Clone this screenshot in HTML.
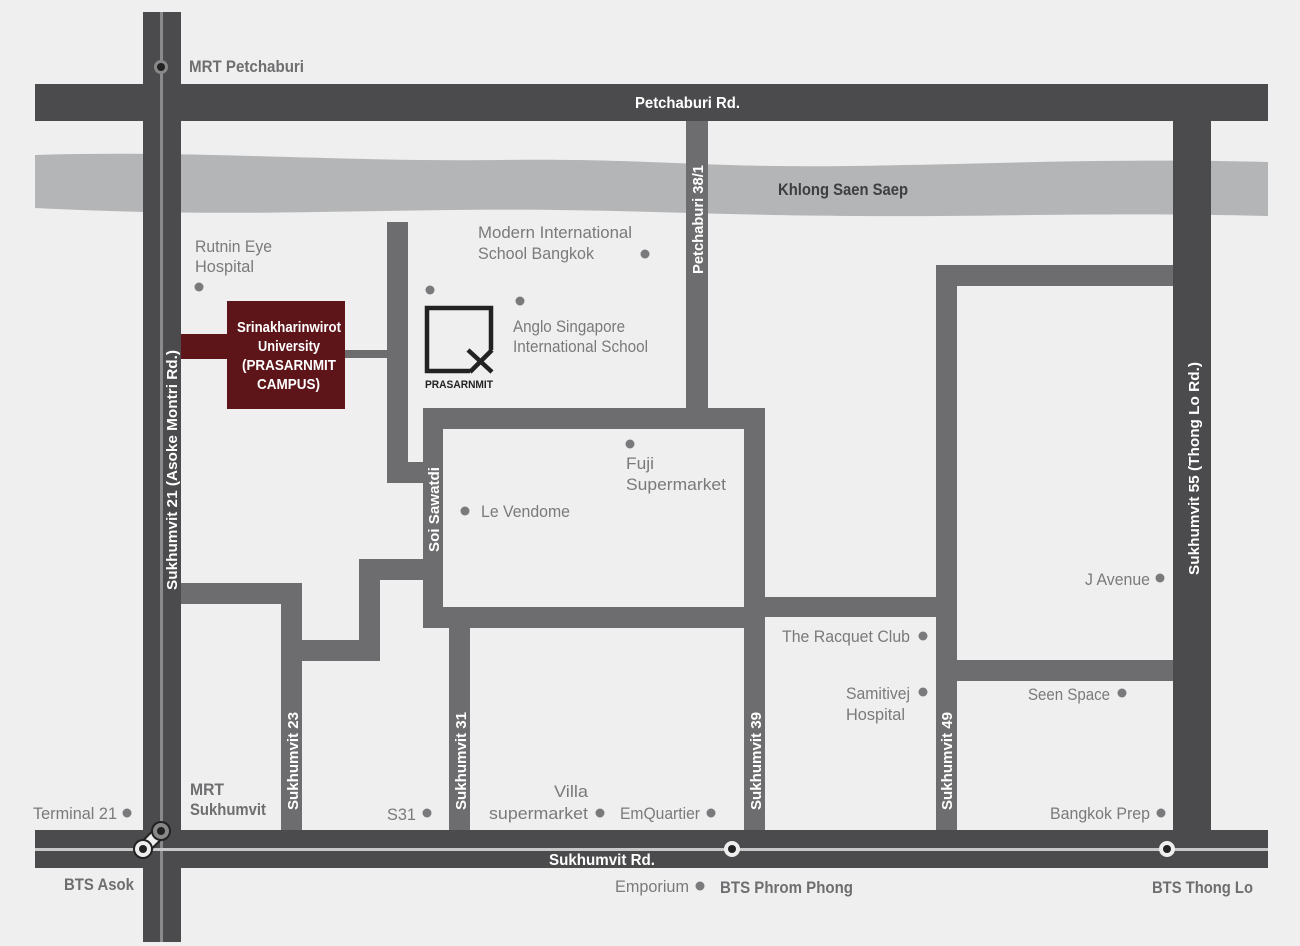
<!DOCTYPE html>
<html><head><meta charset="utf-8"><style>
html,body{margin:0;padding:0;background:#f0f0f0;}
svg{display:block}
text{font-family:"Liberation Sans",sans-serif;}
.b{font-weight:bold;fill:#fff;font-size:15px}
.g{fill:#7a7a7c;font-size:17px}
.d{font-weight:bold;fill:#6e6e70;font-size:17px}
.w{font-weight:bold;fill:#fff;font-size:15px}
</style></head><body>
<svg width="1300" height="946" viewBox="0 0 1300 946" xmlns="http://www.w3.org/2000/svg">
<rect width="1300" height="946" fill="#efefef"/>
<path d="M35 155 C200 150 330 162 500 160 C650 158 700 168 850 166 C1000 164 1100 158 1268 162 L1268 216 C1100 212 1000 217 850 216 C700 215 600 208 450 210 C300 212 200 216 35 208 Z" fill="#b4b5b6"/>
<text x="778" y="195" font-size="17" font-weight="bold" fill="#3e3e40" textLength="130" lengthAdjust="spacingAndGlyphs">Khlong Saen Saep</text>
<g fill="#6d6d6f">
<rect x="686" y="121" width="22" height="290"/>
<rect x="423" y="408" width="342" height="21"/>
<rect x="423" y="408" width="20" height="220"/>
<rect x="744" y="408" width="21" height="422"/>
<rect x="423" y="607" width="342" height="21"/>
<rect x="387" y="222" width="21" height="261"/>
<rect x="387" y="462" width="56" height="21"/>
<rect x="345" y="350" width="42" height="8"/>
<rect x="449" y="628" width="21" height="202"/>
<rect x="765" y="597" width="171" height="20"/>
<rect x="936" y="265" width="21" height="565"/>
<rect x="936" y="265" width="237" height="21"/>
<rect x="957" y="660" width="216" height="21"/>
<rect x="181" y="583" width="121" height="21"/>
<rect x="281" y="583" width="21" height="247"/>
<rect x="281" y="640" width="99" height="21"/>
<rect x="359" y="559" width="21" height="102"/>
<rect x="359" y="559" width="64" height="21"/>
</g>
<g fill="#4b4b4d">
<rect x="35" y="84" width="1233" height="37"/>
<rect x="35" y="830" width="1233" height="38"/>
<rect x="143" y="12" width="38" height="930"/>
<rect x="1173" y="121" width="38" height="709"/>
</g>
<rect x="160" y="12" width="3" height="930" fill="#8a8a8c"/>
<rect x="35" y="848" width="1233" height="3" fill="#c8c8c8"/>
<rect x="181" y="334" width="46" height="25" fill="#5e1519"/>
<rect x="227" y="301" width="118" height="108" fill="#5e1519"/>
<text class="b" x="237" y="332" textLength="104" lengthAdjust="spacingAndGlyphs">Srinakharinwirot</text>
<text class="b" x="258" y="351" textLength="62" lengthAdjust="spacingAndGlyphs">University</text>
<text class="b" x="242" y="370" textLength="94" lengthAdjust="spacingAndGlyphs">(PRASARNMIT</text>
<text class="b" x="257" y="389" textLength="63" lengthAdjust="spacingAndGlyphs">CAMPUS)</text>
<path d="M491 350 V308 H427 V371 H470" fill="none" stroke="#222" stroke-width="4.5"/>
<path d="M468 350 L492 372 M492 350 L470 372" stroke="#222" stroke-width="4.5"/>
<text x="425" y="388" font-size="11" font-weight="bold" fill="#222" textLength="68" lengthAdjust="spacingAndGlyphs">PRASARNMIT</text>
<text x="635" y="108" font-size="16" font-weight="bold" fill="#fff" textLength="105" lengthAdjust="spacingAndGlyphs">Petchaburi Rd.</text>
<text x="549" y="865" font-size="16" font-weight="bold" fill="#fff" textLength="106" lengthAdjust="spacingAndGlyphs">Sukhumvit Rd.</text>
<text class="w" transform="translate(177,590) rotate(-90)" textLength="240" lengthAdjust="spacingAndGlyphs">Sukhumvit 21 (Asoke Montri Rd.)</text>
<text class="w" transform="translate(1199,575) rotate(-90)" textLength="213" lengthAdjust="spacingAndGlyphs">Sukhumvit 55 (Thong Lo Rd.)</text>
<text class="w" transform="translate(703,274) rotate(-90)" textLength="109" lengthAdjust="spacingAndGlyphs">Petchaburi 38/1</text>
<text class="w" transform="translate(439,552) rotate(-90)" textLength="85" lengthAdjust="spacingAndGlyphs">Soi Sawatdi</text>
<text class="w" transform="translate(298,810) rotate(-90)" textLength="98" lengthAdjust="spacingAndGlyphs">Sukhumvit 23</text>
<text class="w" transform="translate(466,810) rotate(-90)" textLength="98" lengthAdjust="spacingAndGlyphs">Sukhumvit 31</text>
<text class="w" transform="translate(761,810) rotate(-90)" textLength="98" lengthAdjust="spacingAndGlyphs">Sukhumvit 39</text>
<text class="w" transform="translate(952,810) rotate(-90)" textLength="98" lengthAdjust="spacingAndGlyphs">Sukhumvit 49</text>
<g fill="#7a7a7c">
<circle cx="199" cy="287" r="4.5"/><circle cx="430" cy="290" r="4.5"/><circle cx="520" cy="301" r="4.5"/>
<circle cx="645" cy="254" r="4.5"/><circle cx="630" cy="444" r="4.5"/><circle cx="465" cy="511" r="4.5"/>
<circle cx="1160" cy="578" r="4.5"/><circle cx="923" cy="636" r="4.5"/><circle cx="923" cy="692" r="4.5"/>
<circle cx="1122" cy="693" r="4.5"/><circle cx="127" cy="813" r="4.5"/><circle cx="427" cy="813" r="4.5"/>
<circle cx="600" cy="813" r="4.5"/><circle cx="711" cy="813" r="4.5"/><circle cx="1161" cy="813" r="4.5"/>
<circle cx="700" cy="886" r="4.5"/>
</g>
<g lengthAdjust="spacingAndGlyphs">
<text class="g" x="195" y="252" textLength="77" lengthAdjust="spacingAndGlyphs">Rutnin Eye</text>
<text class="g" x="195" y="272" textLength="59" lengthAdjust="spacingAndGlyphs">Hospital</text>
<text class="g" x="478" y="238" textLength="154" lengthAdjust="spacingAndGlyphs">Modern  International</text>
<text class="g" x="478" y="259" textLength="116" lengthAdjust="spacingAndGlyphs">School Bangkok</text>
<text class="g" x="513" y="332" textLength="112" lengthAdjust="spacingAndGlyphs">Anglo Singapore</text>
<text class="g" x="513" y="352" textLength="135" lengthAdjust="spacingAndGlyphs">International School</text>
<text class="g" x="626" y="469" font-size="19" textLength="28" lengthAdjust="spacingAndGlyphs">Fuji</text>
<text class="g" x="626" y="490" font-size="19" textLength="100" lengthAdjust="spacingAndGlyphs">Supermarket</text>
<text class="g" x="481" y="517" textLength="89" lengthAdjust="spacingAndGlyphs">Le Vendome</text>
<text class="g" x="1085" y="585" textLength="65" lengthAdjust="spacingAndGlyphs">J Avenue</text>
<text class="g" x="782" y="642" textLength="128" lengthAdjust="spacingAndGlyphs">The Racquet Club</text>
<text class="g" x="846" y="699" textLength="64" lengthAdjust="spacingAndGlyphs">Samitivej</text>
<text class="g" x="846" y="720" textLength="59" lengthAdjust="spacingAndGlyphs">Hospital</text>
<text class="g" x="1028" y="700" textLength="82" lengthAdjust="spacingAndGlyphs">Seen Space</text>
<text class="g" x="33" y="819" textLength="84" lengthAdjust="spacingAndGlyphs">Terminal 21</text>
<text class="g" x="387" y="820" textLength="29" lengthAdjust="spacingAndGlyphs">S31</text>
<text class="g" x="554" y="797" textLength="34" lengthAdjust="spacingAndGlyphs">Villa</text>
<text class="g" x="489" y="819" textLength="99" lengthAdjust="spacingAndGlyphs">supermarket</text>
<text class="g" x="620" y="819" textLength="80" lengthAdjust="spacingAndGlyphs">EmQuartier</text>
<text class="g" x="1050" y="819" textLength="100" lengthAdjust="spacingAndGlyphs">Bangkok Prep</text>
<text class="g" x="615" y="892" textLength="74" lengthAdjust="spacingAndGlyphs">Emporium</text>
<text class="d" x="189" y="72" textLength="115" lengthAdjust="spacingAndGlyphs">MRT Petchaburi</text>
<text class="d" x="190" y="795" textLength="34" lengthAdjust="spacingAndGlyphs">MRT</text>
<text class="d" x="190" y="815" textLength="76" lengthAdjust="spacingAndGlyphs">Sukhumvit</text>
<text class="d" x="64" y="890" textLength="70" lengthAdjust="spacingAndGlyphs">BTS Asok</text>
<text class="d" x="720" y="893" textLength="133" lengthAdjust="spacingAndGlyphs">BTS Phrom Phong</text>
<text class="d" x="1152" y="893" textLength="101" lengthAdjust="spacingAndGlyphs">BTS Thong Lo</text>
</g>
<circle cx="161" cy="67" r="7" fill="#888"/><circle cx="161" cy="67" r="4" fill="#222"/>
<path d="M143 849 L161 831" stroke="#222" stroke-width="14"/>
<path d="M143 849 L161 831" stroke="#eee" stroke-width="10"/>
<circle cx="143" cy="849" r="10" fill="#222"/><circle cx="143" cy="849" r="8" fill="#eee"/><circle cx="143" cy="849" r="4" fill="#222"/>
<circle cx="161" cy="831" r="10" fill="#222"/><circle cx="161" cy="831" r="8" fill="#888"/><circle cx="161" cy="831" r="4" fill="#222"/>
<circle cx="732" cy="849" r="8" fill="#eee"/><circle cx="732" cy="849" r="4" fill="#222"/>
<circle cx="1167" cy="849" r="8" fill="#eee"/><circle cx="1167" cy="849" r="4" fill="#222"/>
</svg>
</body></html>
